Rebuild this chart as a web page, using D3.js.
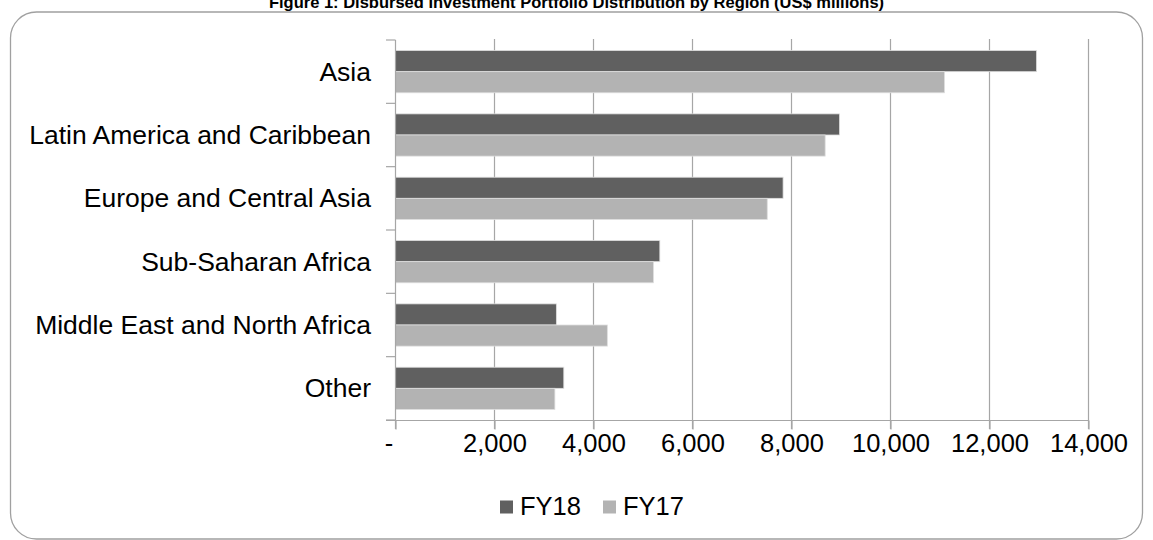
<!DOCTYPE html>
<html>
<head>
<meta charset="utf-8">
<script src="https://cdn.jsdelivr.net/npm/d3@7"></script>
<style>
  html, body { margin: 0; padding: 0; background: #fff; }
  svg { display: block; }
  text { font-family: "Liberation Sans", Arial, sans-serif; fill: #000; }
</style>
</head>
<body>
<svg id="chart" width="1153" height="540"></svg>
<script>
const categories = ["Asia", "Latin America and Caribbean", "Europe and Central Asia", "Sub-Saharan Africa", "Middle East and North Africa", "Other"];
const seriesNames = ["FY18", "FY17"];
const fy18 = [12950, 8970, 7830, 5340, 3250, 3400];
const fy17 = [11090, 8680, 7510, 5210, 4280, 3220];
const xTicks = [0, 2000, 4000, 6000, 8000, 10000, 12000, 14000];
const title = "Figure 1: Disbursed Investment Portfolio Distribution by Region (US$ millions)";

const colors = { FY18: "#606060", FY17: "#b3b3b3" };
const seriesValues = { FY18: fy18, FY17: fy17 };

const svg = d3.select("#chart");

// Title (partially cut off at top, as in the reference)
svg.append("text")
  .attr("x", 576.5).attr("y", 8)
  .attr("text-anchor", "middle")
  .style("font-weight", "bold")
  .style("font-size", "16.5px")
  .text(title);

// Rounded frame
svg.append("rect")
  .attr("x", 10.5).attr("y", 12).attr("width", 1132).attr("height", 527)
  .attr("rx", 26).attr("ry", 26)
  .attr("fill", "none").attr("stroke", "#a0a0a0").attr("stroke-width", 1.3);

const x = d3.scaleLinear().domain([0, 14000]).range([395.5, 1088.5]);
const y = d3.scaleBand().domain(categories).range([40, 420]).padding(0);
const yInner = d3.scaleBand().domain(seriesNames).range([0, y.bandwidth()]).paddingInner(0).paddingOuter(0.5);

const gridColor = "#a6a6a6";

// Gridlines (vertical), extending through tick marks
svg.append("g").selectAll("line").data(xTicks.slice(1)).join("line")
  .attr("x1", d => x(d)).attr("x2", d => x(d))
  .attr("y1", 39).attr("y2", 429)
  .attr("stroke", gridColor).attr("stroke-width", 1.2);

// Bars
const groups = svg.append("g").selectAll("g").data(categories).join("g")
  .attr("transform", c => `translate(0,${y(c)})`);
groups.selectAll("rect").data((c, i) => seriesNames.map(s => ({ s, v: seriesValues[s][i] }))).join("rect")
  .attr("x", x(0))
  .attr("y", d => yInner(d.s))
  .attr("width", d => x(d.v) - x(0))
  .attr("height", yInner.bandwidth())
  .attr("fill", d => colors[d.s])
  .attr("stroke", "#dedede").attr("stroke-width", 0.8);

// Bottom axis
const xAxis = d3.axisBottom(x).tickValues(xTicks).tickSize(9).tickSizeOuter(0)
  .tickFormat(d => d === 0 ? "-" : d3.format(",")(d));
const gx = svg.append("g").attr("transform", "translate(0,420.5)").call(xAxis);
gx.select(".domain").remove();
gx.append("line").attr("x1", 386).attr("x2", 1088.5).attr("y1", 0).attr("y2", 0)
  .attr("stroke", gridColor).attr("stroke-width", 1.2);
gx.selectAll(".tick line").attr("stroke", gridColor).attr("stroke-width", 1.2);
gx.selectAll(".tick text")
  .attr("y", 31).attr("dy", 0)
  .attr("dx", d => d === 0 ? -7 : 0)
  .style("font-size", "25.5px")
  .style("font-family", "'Liberation Sans', Arial, sans-serif")
  .attr("fill", "#000");

// Left axis
const gy = svg.append("g");
gy.append("line").attr("x1", 395.5).attr("x2", 395.5).attr("y1", 40).attr("y2", 429)
  .attr("stroke", gridColor).attr("stroke-width", 1.2);
const catTicks = categories.map(c => y(c)).concat([420]);
gy.selectAll("line.ct").data(catTicks).join("line").attr("class", "ct")
  .attr("x1", 386).attr("x2", 395.5).attr("y1", d => d).attr("y2", d => d)
  .attr("stroke", gridColor).attr("stroke-width", 1.2);
gy.selectAll("text").data(categories).join("text")
  .attr("x", 371).attr("y", c => y(c) + y.bandwidth() / 2 + 9)
  .attr("text-anchor", "end")
  .style("font-size", "26.5px")
  .text(c => c);

// Legend
const legendItems = [
  { s: "FY18", sx: 500, tx: 520 },
  { s: "FY17", sx: 603, tx: 623 }
];
const lg = svg.append("g");
lg.selectAll("rect").data(legendItems).join("rect")
  .attr("x", d => d.sx).attr("y", 500.5).attr("width", 13).attr("height", 13)
  .attr("fill", d => colors[d.s]);
lg.selectAll("text").data(legendItems).join("text")
  .attr("x", d => d.tx).attr("y", 515)
  .style("font-size", "25.5px")
  .text(d => d.s);
</script>
</body>
</html>
